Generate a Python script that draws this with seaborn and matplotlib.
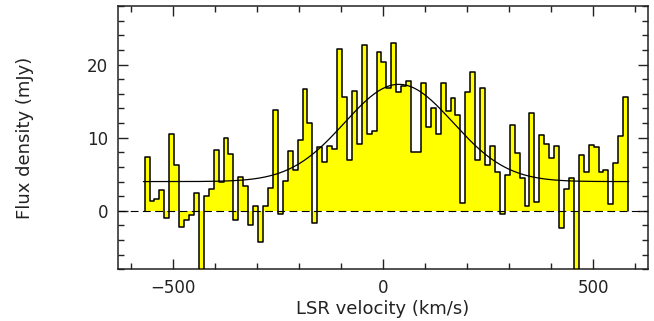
import numpy as np
import pandas as pd
import matplotlib
matplotlib.use("Agg")
import matplotlib.pyplot as plt
from matplotlib.ticker import MultipleLocator
import seaborn as sns

# ---- data -------------------------------------------------------------
v_first_edge = -567.0      # km/s, left edge of first channel
chan_width = 11.74         # km/s
flux = [7.4, 1.3, 1.6, 2.9, -1.0, 10.5, 6.3, -2.2, -1.3, -0.6,
        2.5, -10.0, 2.0, 3.0, 8.3, 3.9, 10.0, 7.8, -1.2, 4.6,
        3.4, -1.9, 0.6, -4.3, 0.6, 3.1, 13.8, -0.4, 4.1, 8.2,
        5.6, 9.7, 16.6, 12.0, -1.6, 8.7, 6.7, 8.8, 8.5, 22.2,
        15.6, 6.9, 16.4, 9.1, 22.7, 10.5, 10.9, 21.7, 20.4, 16.8,
        23.0, 16.2, 17.1, 17.7, 8.0, 8.1, 17.5, 11.4, 14.1, 10.5,
        17.5, 13.6, 15.4, 13.1, 1.1, 16.2, 19.0, 7.0, 16.8, 6.2,
        8.9, 5.3, -0.5, 4.9, 11.7, 7.9, 4.5, 0.6, 13.4, 1.2,
        10.4, 9.2, 7.2, 8.9, -2.4, 3.0, 4.5, -10.0, 7.6, 5.3,
        9.0, 8.7, 5.3, 5.6, 1.0, 6.6, 10.3, 15.5]

# Gaussian fit parameters (offset, amplitude, centre, sigma)
fit_offset = 4.0
fit_amp = 13.3
fit_center = 38.0
fit_sigma = 129.0
fit_range = [-570.0, 585.0]

xlabel = "LSR velocity (km/s)"
ylabel = "Flux density (mJy)"

# ---- derived ----------------------------------------------------------
flux = np.asarray(flux)
edges = v_first_edge + chan_width * np.arange(len(flux) + 1)
# outline: rise from 0 at first edge, steps, drop to 0 at last edge
step_x = np.concatenate([[edges[0]], edges, [edges[-1]]])
step_y = np.concatenate([[0.0], flux, [flux[-1], 0.0]])
outline = pd.DataFrame({"v": step_x, "f": step_y})

vg = np.linspace(fit_range[0], fit_range[1], 500)
fg = fit_offset + fit_amp * np.exp(-0.5 * ((vg - fit_center) / fit_sigma) ** 2)
fit_df = pd.DataFrame({"v": vg, "f": fg})

# ---- plot -------------------------------------------------------------
sns.set_style("ticks")
plt.rcParams["font.family"] = ["DejaVu Sans"]

fig = plt.figure(figsize=(6.54, 3.21), dpi=100)
ax = fig.add_axes([0.180, 0.161, 0.811, 0.820])

fill_y = np.concatenate([flux, [flux[-1]]])
ax.fill_between(edges, fill_y, 0, step="post", color="#ffff00", linewidth=0, zorder=1)
ax.axhline(0, color="black", lw=0.8, ls=(0, (7, 4)), zorder=2)

sns.lineplot(data=outline, x="v", y="f", ax=ax, sort=False, estimator=None,
             drawstyle="steps-post", color="black", lw=1.1, zorder=3)
sns.lineplot(data=fit_df, x="v", y="f", ax=ax, sort=False, estimator=None,
             color="black", lw=0.9, zorder=4)

ax.set_xlim(-631, 631)
ax.set_ylim(-8, 28)
ax.xaxis.set_major_locator(MultipleLocator(500))
ax.xaxis.set_minor_locator(MultipleLocator(100))
ax.yaxis.set_major_locator(MultipleLocator(10))
ax.yaxis.set_minor_locator(MultipleLocator(2))
ax.set_yticks([0, 10, 20])
ax.tick_params(which="both", direction="in", top=True, right=True,
               labelsize=12, colors="#222222")
ax.tick_params(which="major", length=7.5, width=1.0, pad=7)
ax.tick_params(which="minor", length=4.3, width=1.0)
for s in ax.spines.values():
    s.set_visible(True)
    s.set_linewidth(1.1)
    s.set_color("#222222")

ax.set_xlabel(xlabel, fontsize=13, labelpad=2, color="#222222")
ax.set_ylabel(ylabel, fontsize=13, labelpad=38, color="#222222")

fig.savefig("out.png", dpi=100)
